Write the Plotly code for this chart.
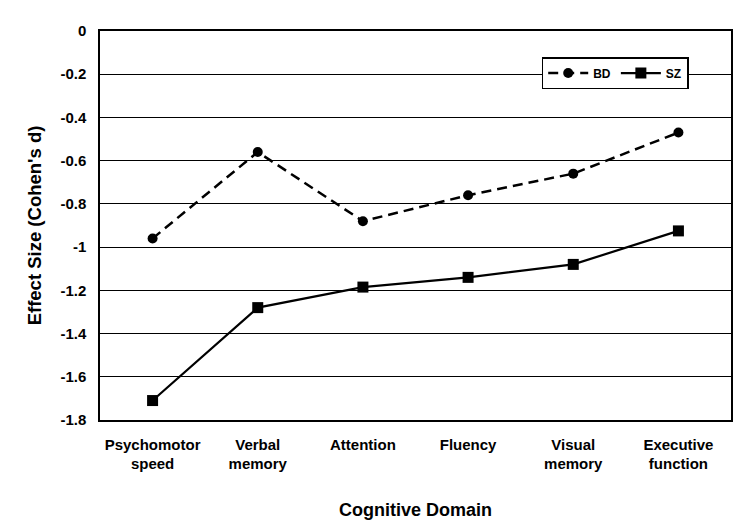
import plotly.graph_objects as go

categories = ["Psychomotor<br>speed", "Verbal<br>memory", "Attention", "Fluency",
              "Visual<br>memory", "Executive<br>function"]
bd_values = [-0.96, -0.56, -0.88, -0.76, -0.66, -0.47]
sz_values = [-1.71, -1.28, -1.185, -1.14, -1.08, -0.925]
y_tick_vals = [0, -0.2, -0.4, -0.6, -0.8, -1, -1.2, -1.4, -1.6, -1.8]
y_tick_text = ["0", "-0.2", "-0.4", "-0.6", "-0.8", "-1", "-1.2", "-1.4", "-1.6", "-1.8"]

font_family = "Liberation Sans, Arial, sans-serif"

fig = go.Figure()
fig.add_trace(go.Scatter(
    x=categories, y=bd_values, name="BD", mode="lines+markers",
    line=dict(color="black", width=2.5, dash="10px,6px"),
    marker=dict(symbol="circle", size=10, color="black"),
))
fig.add_trace(go.Scatter(
    x=categories, y=sz_values, name="SZ", mode="lines+markers",
    line=dict(color="black", width=2.2),
    marker=dict(symbol="square", size=11, color="black"),
))

fig.update_layout(
    width=742, height=521,
    margin=dict(l=92, r=19, t=23, b=109),
    paper_bgcolor="white", plot_bgcolor="white",
    font=dict(family=font_family, color="black"),
    showlegend=True,
    legend=dict(
        orientation="h", x=0.70, y=0.933, xanchor="left", yanchor="top",
        bgcolor="white", bordercolor="black", borderwidth=1.5,
        font=dict(size=12, weight="bold", family=font_family),
        itemwidth=40,
    ),
    xaxis=dict(
        type="category",
        showline=True, linecolor="black", linewidth=1.5, mirror=True,
        showgrid=False, ticks="outside", ticklen=10, tickcolor="white",
        tickfont=dict(size=15, weight="bold", family=font_family),
        title=dict(text="Cognitive Domain", font=dict(size=18, weight="bold", family=font_family),
                   standoff=32),
        range=[-0.5, 5.5],
        automargin=False,
    ),
    yaxis=dict(
        range=[-1.8, 0],
        tickvals=y_tick_vals, ticktext=y_tick_text,
        showline=True, linecolor="black", linewidth=1.5, mirror=True,
        showgrid=True, gridcolor="black", gridwidth=1.2,
        zeroline=False, ticks="outside", ticklen=9, tickcolor="white",
        tickfont=dict(size=15, weight="bold", family=font_family),
        title=dict(text="Effect Size (Cohen's d)", font=dict(size=18.5, weight="bold", family=font_family),
                   standoff=14),
        automargin=False,
    ),
)

fig.write_html("out.html")
